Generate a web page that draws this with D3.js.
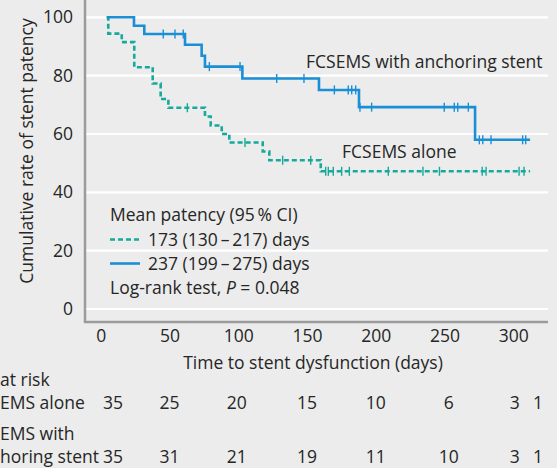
<!DOCTYPE html>
<html>
<head>
<meta charset="utf-8">
<script src="https://cdn.jsdelivr.net/npm/d3@7"></script>
<style>
  body { margin: 0; background: #ebeceb; }
  text { font-family: "Open Sans", sans-serif; fill: #262626; font-size: 17.5px; }
</style>
</head>
<body>
<svg id="chart"></svg>
<script>
const width = 557;
const height = 468;

// Kaplan-Meier steps: [day, patency %]
const anchorStart = [4.4, 100];
const anchorSteps = [[24.2, 97.1], [31.7, 94.3], [61.3, 90.6], [73.4, 86.8], [75.8, 83.1],
    [103, 79.0], [158.7, 75.1], [187.8, 69.2], [272.2, 58.0]];
const anchorEnd = 312.2;
const anchorCensor = [45.5, 54, 60, 79, 101.3, 128, 147.8, 169.9, 180, 182.5, 185.4, 188.5, 197,
    249.8, 257.1, 259.6, 267.3, 275.3, 277.8, 283.8, 306.8, 309];

const aloneStart = [4.4, 100];
const aloneSteps = [[5.5, 94.4], [15.3, 91.5], [24.4, 82.9], [37.8, 77.3], [43.6, 72.0], [49.2, 69.0],
    [75.8, 66.0], [80, 62.9], [88, 60.0], [93.5, 57.1], [117.8, 54.0], [122.6, 51.0], [160, 47.2]];
const aloneEnd = 312.2;
const aloneCensor = [63, 104.9, 132.3, 152.7, 163.6, 165.5, 169.1, 175.2, 180.8, 209.1, 234.3,
    246.3, 277.4, 280.2, 304.2, 307.8];

const xTicks = [0, 50, 100, 150, 200, 250, 300];
const yTicks = [0, 20, 40, 60, 80, 100];

const riskDays = [9, 50, 99, 150, 200, 253, 301, 318];
const riskAlone = [35, 25, 20, 15, 10, 6, 3, 1];
const riskAnchor = [35, 31, 21, 19, 11, 10, 3, 1];

const blue = "#1a8fd6";
const green = "#17a99b";

const svg = d3.select("#chart").attr("width", width).attr("height", height);

svg.append("rect").attr("width", width).attr("height", height).attr("fill", "#ebeceb");

const x = d3.scaleLinear().domain([0, 300]).range([100.7, 513.3]);
const y = d3.scaleLinear().domain([0, 100]).range([309, 17.3]);

const plotLeft = 85, plotRight = 548, plotBottom = 322;

// grid
svg.append("g")
    .selectAll("line")
    .data(yTicks)
    .enter().append("line")
    .attr("x1", plotLeft)
    .attr("x2", plotRight)
    .attr("y1", d => y(d))
    .attr("y2", d => y(d))
    .attr("stroke", "white")
    .attr("stroke-width", 2.2);

// axes lines
svg.append("line")
    .attr("x1", plotLeft).attr("x2", plotLeft)
    .attr("y1", 0).attr("y2", plotBottom)
    .attr("stroke", "#9b9b9b").attr("stroke-width", 2.5);
svg.append("line")
    .attr("x1", plotLeft - 1.2).attr("x2", plotRight)
    .attr("y1", plotBottom).attr("y2", plotBottom)
    .attr("stroke", "#9b9b9b").attr("stroke-width", 2.5);

const yAxis = svg.append("g")
    .attr("transform", "translate(80,0)")
    .call(d3.axisLeft(y).tickValues(yTicks).tickSize(0).tickPadding(7));
yAxis.select(".domain").remove();
yAxis.selectAll("text").style("font-size", "17.5px").style("font-family", "Open Sans");

const xAxis = svg.append("g")
    .attr("transform", `translate(0,${plotBottom})`)
    .call(d3.axisBottom(x).tickValues(xTicks).tickSize(0).tickPadding(8));
xAxis.select(".domain").remove();
xAxis.selectAll("text").style("font-size", "17.5px").style("font-family", "Open Sans");

svg.append("text")
    .attr("transform", "translate(33,151) rotate(-90)")
    .attr("text-anchor", "middle")
    .text("Cumulative rate of stent patency");

svg.append("text")
    .attr("x", 313)
    .attr("y", 369)
    .attr("text-anchor", "middle")
    .text("Time to stent dysfunction (days)");

// curves
const line = d3.line()
    .x(d => x(d[0]))
    .y(d => y(d[1]))
    .curve(d3.curveStepAfter);

function drawCurve(start, steps, end, censor, color, dash) {
    const pts = [start, ...steps, [end, steps[steps.length - 1][1]]];
    svg.append("path")
        .datum(pts)
        .attr("fill", "none")
        .attr("stroke", color)
        .attr("stroke-width", 2.6)
        .attr("stroke-dasharray", dash)
        .attr("d", line);

    const level = t => {
        let v = start[1];
        steps.forEach(s => { if (s[0] <= t) v = s[1]; });
        return v;
    };
    svg.append("g")
        .selectAll("line")
        .data(censor)
        .enter().append("line")
        .attr("x1", d => x(d))
        .attr("x2", d => x(d))
        .attr("y1", d => y(level(d)) - 4.5)
        .attr("y2", d => y(level(d)) + 4.5)
        .attr("stroke", color)
        .attr("stroke-width", 1.4);
}

drawCurve(aloneStart, aloneSteps, aloneEnd, aloneCensor, green, "5,3");
drawCurve(anchorStart, anchorSteps, anchorEnd, anchorCensor, blue, null);

svg.append("text")
    .attr("x", 306).attr("y", 68)
    .text("FCSEMS with anchoring stent");

svg.append("text")
    .attr("x", 342).attr("y", 158)
    .text("FCSEMS alone");

// legend
svg.append("text")
    .attr("x", 110).attr("y", 221)
    .text("Mean patency (95\u2009% CI)");

svg.append("line")
    .attr("x1", 110).attr("x2", 140).attr("y1", 239.5).attr("y2", 239.5)
    .attr("stroke", green).attr("stroke-width", 2.6).attr("stroke-dasharray", "5,3");
svg.append("text")
    .attr("x", 148).attr("y", 246)
    .text("173 (130\u2009\u2013\u2009217) days");

svg.append("line")
    .attr("x1", 110).attr("x2", 140).attr("y1", 263.5).attr("y2", 263.5)
    .attr("stroke", blue).attr("stroke-width", 2.6);
svg.append("text")
    .attr("x", 148).attr("y", 270)
    .text("237 (199\u2009\u2013\u2009275) days");

const lr = svg.append("text")
    .attr("x", 110).attr("y", 294);
lr.append("tspan").text("Log-rank test, ");
lr.append("tspan").style("font-style", "italic").text("P");
lr.append("tspan").text(" = 0.048");

// numbers at risk: row labels run off the left edge as in the source figure
function prefixWidth(s) {
    const t = svg.append("text").text(s);
    const w = t.node().getComputedTextLength();
    t.remove();
    return w;
}
svg.append("text").attr("x", -prefixWidth("No.\u00a0")).attr("y", 386).text("No. at risk");
svg.append("text").attr("x", -prefixWidth("FCS")).attr("y", 409).text("FCSEMS alone");
svg.append("text").attr("x", -prefixWidth("FCS")).attr("y", 440).text("FCSEMS with");
svg.append("text").attr("x", -prefixWidth("anc")).attr("y", 463).text("anchoring stent");

svg.append("g")
    .selectAll("text")
    .data(riskAlone)
    .enter().append("text")
    .attr("x", (d, i) => x(riskDays[i]))
    .attr("y", 409)
    .attr("text-anchor", "middle")
    .text(d => d);

svg.append("g")
    .selectAll("text")
    .data(riskAnchor)
    .enter().append("text")
    .attr("x", (d, i) => x(riskDays[i]))
    .attr("y", 463)
    .attr("text-anchor", "middle")
    .text(d => d);
</script>
</body>
</html>
